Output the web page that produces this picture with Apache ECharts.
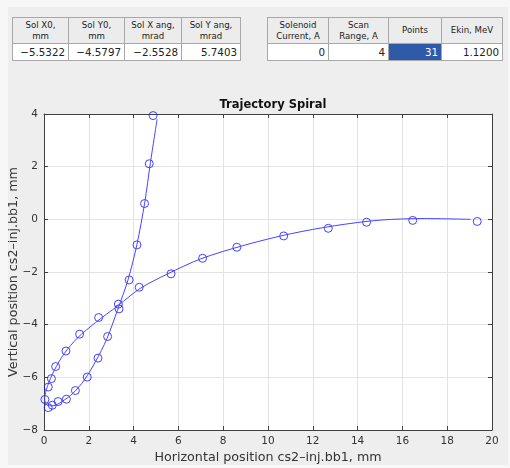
<!DOCTYPE html>
<html>
<head>
<meta charset="utf-8">
<script src="https://cdn.jsdelivr.net/npm/echarts@6.0.0/dist/echarts.min.js"></script>
<style>
  html, body { margin: 0; padding: 0; background: #f7f7f7; }
  #panel { position: absolute; left: 8px; top: 7px; width: 500px; height: 458px; background: #eeeeee; }
  #chart { position: absolute; left: 0; top: 0; width: 510px; height: 468px; }
  table.tb { position: absolute; border-collapse: collapse; font-family: "DejaVu Sans", sans-serif; background: #fff; }
  table.tb td { border: 1px solid #a8a8a8; padding: 0 3px; color: #222; }
  table.tb tr.h td { background: #ececec; height: 25px; font-size: 8.6px; text-align: center; line-height: 11px; vertical-align: middle; }
  table.tb tr.d td { height: 16px; font-size: 10.3px; text-align: right; }
  table.tb td.sel { background: #2f5aa8; color: #fff; }
</style>
</head>
<body>
<div id="panel"></div>
<table class="tb" id="t1" style="left:12px; top:17px;"></table>
<table class="tb" id="t2" style="left:267px; top:17px;"></table>
<div id="chart"></div>
<script>
// table contents
const solHeaders = ['Sol X0,<br>mm', 'Sol Y0,<br>mm', 'Sol X ang,<br>mrad', 'Sol Y ang,<br>mrad']
const solValues = ['\u22125.5322', '\u22124.5797', '\u22122.5528', '5.7403']
const solWidths = [56, 56, 57, 59]
const scanHeaders = ['Solenoid<br>Current, A', 'Scan<br>Range, A', 'Points', 'Ekin, MeV']
const scanValues = ['0', '4', '31', '1.1200']
const scanWidths = [61, 60, 53, 61]

// measured beam positions (mm)
const measX = [19.34, 16.46, 14.40, 12.69, 10.70, 8.61, 7.08, 5.67, 4.25, 3.32, 2.44, 1.59, 0.98, 0.52, 0.33, 0.19, 0.04,
  0.19, 0.37, 0.63, 1.00, 1.40, 1.93, 2.41, 2.84, 3.35, 3.80, 4.15, 4.49, 4.70, 4.87]
const measY = [-0.08, -0.04, -0.11, -0.34, -0.63, -1.06, -1.48, -2.07, -2.58, -3.22, -3.73, -4.36, -5.00, -5.59, -6.05, -6.37, -6.84,
  -7.15, -7.06, -6.92, -6.83, -6.50, -5.99, -5.27, -4.45, -3.40, -2.30, -0.97, 0.60, 2.11, 3.94]

// fitted spiral
const fitX = [19.05, 17.0, 15.0, 13.0, 11.0, 9.0, 7.0, 5.5, 4.3, 3.3, 2.3, 1.5, 0.9, 0.45, 0.15, 0.03,
  0.12, 0.4, 0.8, 1.3, 1.8, 2.3, 2.8, 3.3, 3.75, 4.15, 4.5, 4.75, 5.05]
const fitY = [0.00, 0.03, -0.03, -0.24, -0.55, -0.97, -1.50, -2.08, -2.62, -3.28, -3.92, -4.50, -5.10, -5.75, -6.35, -6.80,
  -7.05, -7.08, -6.92, -6.60, -6.10, -5.40, -4.55, -3.40, -2.30, -0.95, 0.65, 2.15, 3.80]

function fillTable(id, headers, values, widths, selIdx) {
  const t = document.getElementById(id)
  let h = '<tr class="h">'
  headers.forEach((s, i) => { h += '<td style="width:' + (widths[i] - 7) + 'px">' + s + '</td>' })
  h += '</tr><tr class="d">'
  values.forEach((s, i) => { h += '<td' + (i === selIdx ? ' class="sel"' : '') + '>' + s + '</td>' })
  h += '</tr>'
  t.innerHTML = h
}
fillTable('t1', solHeaders, solValues, solWidths, -1)
fillTable('t2', scanHeaders, scanValues, scanWidths, 2)

const fmt = v => String(v).replace('-', '\u2212')
const font = 'DejaVu Sans'
const axisCol = '#404040'

const chart = echarts.init(document.getElementById('chart'), null, { renderer: 'canvas' })
const baseX = {
  type: 'value', min: 0, max: 20, interval: 2,
  axisLine: { show: true, onZero: false, lineStyle: { color: axisCol, width: 1 } },
  axisTick: { show: true, inside: true, length: 4, lineStyle: { color: axisCol } },
  splitLine: { show: false }
}
const baseY = {
  type: 'value', min: -8, max: 4, interval: 2,
  axisLine: { show: true, onZero: false, lineStyle: { color: axisCol, width: 1 } },
  axisTick: { show: true, inside: true, length: 4, lineStyle: { color: axisCol } },
  splitLine: { show: false }
}
chart.setOption({
  backgroundColor: 'transparent',
  animation: false,
  title: {
    text: 'Trajectory Spiral', left: 268, top: 94, textAlign: 'center',
    textStyle: { fontFamily: font, fontSize: 11.5, fontWeight: 'bold', color: '#111' }
  },
  grid: {
    left: 44, top: 114, width: 448, height: 316, show: true, backgroundColor: '#ffffff', borderWidth: 0,
    containLabel: false, outerBoundsMode: 'none'
  },
  xAxis: [
    Object.assign({}, baseX, {
      position: 'bottom',
      splitLine: { show: true, lineStyle: { color: '#e3e3e3', width: 1 } },
      axisLabel: { show: true, margin: 6, formatter: fmt, fontFamily: font, fontSize: 10.5, color: '#333' },
      name: 'Horizontal position cs2\u2013inj.bb1, mm', nameLocation: 'middle', nameGap: 21, nameMoveOverlap: false,
      nameTextStyle: { fontFamily: font, fontSize: 12.7, color: '#333' }
    }),
    Object.assign({}, baseX, { position: 'top', axisLabel: { show: false } })
  ],
  yAxis: [
    Object.assign({}, baseY, {
      position: 'left',
      splitLine: { show: true, lineStyle: { color: '#e3e3e3', width: 1 } },
      axisLabel: { show: true, margin: 6, formatter: fmt, fontFamily: font, fontSize: 10.5, color: '#333' },
      name: 'Vertical position cs2\u2013inj.bb1, mm', nameLocation: 'middle', nameGap: 24, nameMoveOverlap: false,
      nameTextStyle: { fontFamily: font, fontSize: 12.7, color: '#333' }
    }),
    Object.assign({}, baseY, { position: 'right', axisLabel: { show: false } })
  ],
  series: [
    {
      type: 'line', xAxisIndex: 0, yAxisIndex: 0,
      data: fitX.map((x, i) => [x, fitY[i]]),
      smooth: 0.3, showSymbol: false,
      lineStyle: { color: '#4545ff', width: 1 }
    },
    {
      type: 'scatter', xAxisIndex: 0, yAxisIndex: 0,
      data: measX.map((x, i) => [x, measY[i]]),
      symbol: 'circle', symbolSize: 8,
      itemStyle: { color: 'rgba(0,0,0,0)', borderColor: '#1515ff', borderWidth: 1 }
    }
  ]
})
</script>
</body>
</html>
